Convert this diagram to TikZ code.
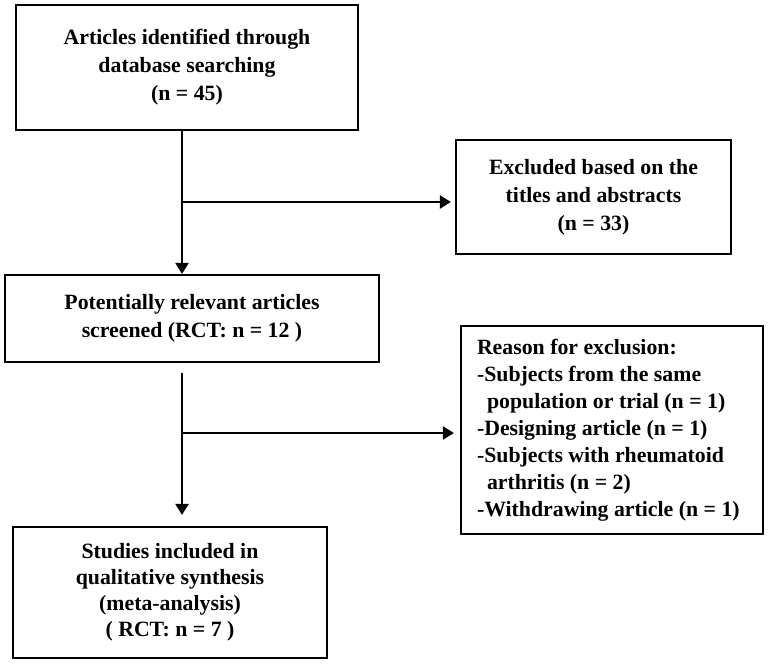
\documentclass[tikz,border=0pt]{standalone}
\usepackage{fontspec}
\setmainfont{Liberation Serif}
\usetikzlibrary{arrows.meta}
\tikzset{
  box/.style={draw, line width=2.2pt, align=center, inner sep=0pt,
    font=\bfseries\fontsize{21.8}{28}\selectfont},
  conn/.style={line width=2.2pt, -{Triangle[length=11pt,width=13pt]}}
}
\begin{document}
\begin{tikzpicture}[x=1pt,y=-1pt]
\useasboundingbox (0,0) rectangle (768,664);
\node[box, minimum width=342pt, minimum height=125pt] (b1) at (187,67.5)
  {Articles identified through\\database searching\\(n = 45)};
\node[box, minimum width=275pt, minimum height=114pt] (e1) at (593.5,197)
  {Excluded based on the\\titles and abstracts\\(n = 33)};
\node[box, minimum width=374pt, minimum height=87pt] (b2) at (192,318.5)
  {Potentially relevant articles\\screened (RCT: n = 12 )};
\node[box, minimum width=302pt, minimum height=208pt, align=left,
  font=\bfseries\fontsize{21.8}{27}\selectfont] (e2) at (612,430)
  {\parbox{270pt}{\raggedright Reason for exclusion:\\-Subjects from the same\\\hspace*{10pt}population or trial (n = 1)\\-Designing article (n = 1)\\-Subjects with rheumatoid\\\hspace*{10pt}arthritis (n = 2)\\-Withdrawing article (n = 1)}};
\node[box, minimum width=314pt, minimum height=131pt,
  font=\bfseries\fontsize{21.8}{26}\selectfont] (b3) at (170,592.5)
  {Studies included in\\qualitative synthesis\\(meta-analysis)\\( RCT: n = 7 )};
\coordinate (c1) at (182,0);
\coordinate (j1) at (182,202);
\coordinate (j2) at (182,433);
\draw[conn] (b1.south -| c1) -- (b2.north -| c1);
\draw[conn, shorten >=4pt] (j1) -- (j1 -| e1.west);
\draw[conn, shorten <=10pt, shorten >=11pt] (b2.south -| c1) -- (b3.north -| c1);
\draw[conn, shorten >=6pt] (j2) -- (j2 -| e2.west);
\end{tikzpicture}
\end{document}
